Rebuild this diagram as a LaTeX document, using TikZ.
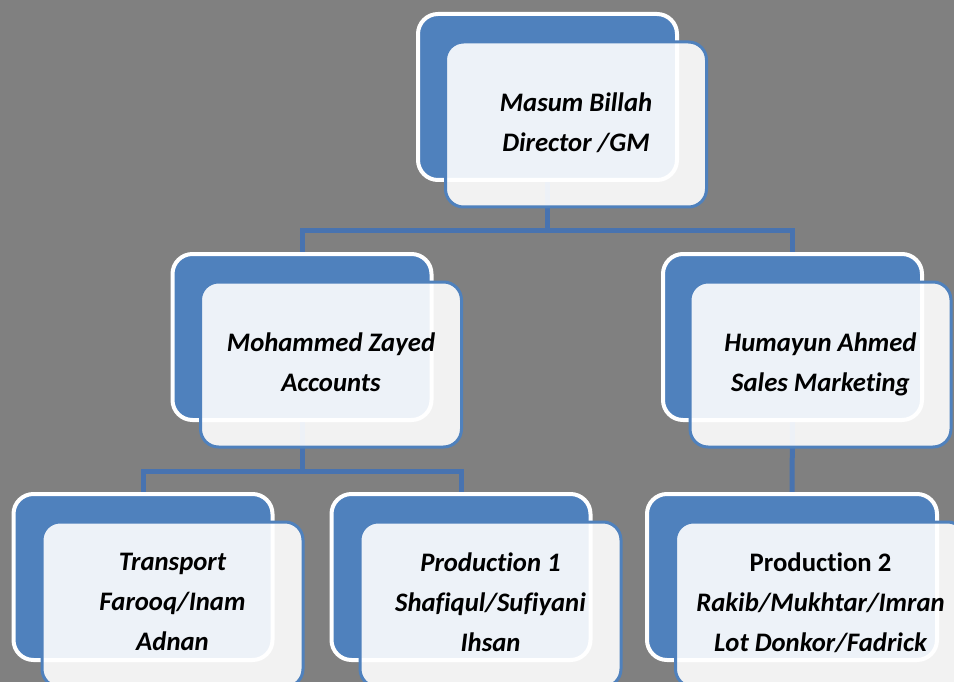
\documentclass[tikz,border=0pt]{standalone}
\usepackage{fontspec}
\setmainfont[Ligatures=NoCommon]{Carlito}
\definecolor{bg}{HTML}{808080}
\definecolor{acc}{HTML}{4F81BD}
\definecolor{connc}{HTML}{4873B0}
\pgfdeclarelayer{bgl}
\pgfdeclarelayer{connl}
\pgfsetlayers{bgl,connl,main}
\begin{document}
\begin{tikzpicture}[x=1pt,y=-1pt,
 backbox/.style={draw=white, line width=4pt, fill=acc, rounded corners=20pt, minimum width=259pt, minimum height=166pt, inner sep=0pt},
 frontbox/.style={draw=acc, line width=3pt, fill=white, fill opacity=0.9, text opacity=1, rounded corners=18pt, minimum width=261pt, minimum height=165pt, align=center, font=\fontsize{26.7}{40}\selectfont\bfseries\itshape, inner sep=0pt},
 connector/.style={draw=connc, line width=5pt}]
\begin{pgfonlayer}{bgl}
\fill[bg] (0,0) rectangle (954,682);
\end{pgfonlayer}
\useasboundingbox (0,0) rectangle (954,682);
% back boxes
\node[backbox] (b0) at (547.5,97) {};
\node[backbox] (b1) at (302,337) {};
\node[backbox] (b2) at (792.5,337) {};
\node[backbox] (b3) at (143,577) {};
\node[backbox] (b4) at (461,577) {};
\node[backbox, minimum width=290pt] (b5) at (792,577) {};
% connectors (behind boxes)
\begin{pgfonlayer}{connl}
\draw[connector] (b0.south) -- ++(0,49) coordinate (c0) -| (b1.north);
\draw[connector] (c0) -| (b2.north);
\draw[connector] (b1.south) -- ++(0,49) coordinate (c1) -| (b3.north);
\draw[connector] (c1) -| (b4.north);
\draw[connector] (b2.south) -- (b5.north);
\end{pgfonlayer}
% front boxes
\node[frontbox] (f0) at (576,124.5) {Masum Billah\\Director /GM\vphantom{g}};
\node[frontbox] (f1) at (331,364.5) {Mohammed Zayed\\Accounts\vphantom{g}};
\node[frontbox] (f2) at (820.5,364.5) {Humayun Ahmed\\Sales Marketing};
\node[frontbox] (f3) at (172.5,604.5) {Transport\\Farooq/Inam\\Adnan\vphantom{g}};
\node[frontbox] (f4) at (490.5,604.5) {Production 1\\Shafiqul/Sufiyani\\Ihsan\vphantom{g}};
\node[frontbox, minimum width=290pt] (f5) at (820.5,604.5) {{\upshape Production 2}\\Rakib/Mukhtar/Imran\\Lot Donkor/Fadrick\vphantom{g}};
\end{tikzpicture}
\end{document}
